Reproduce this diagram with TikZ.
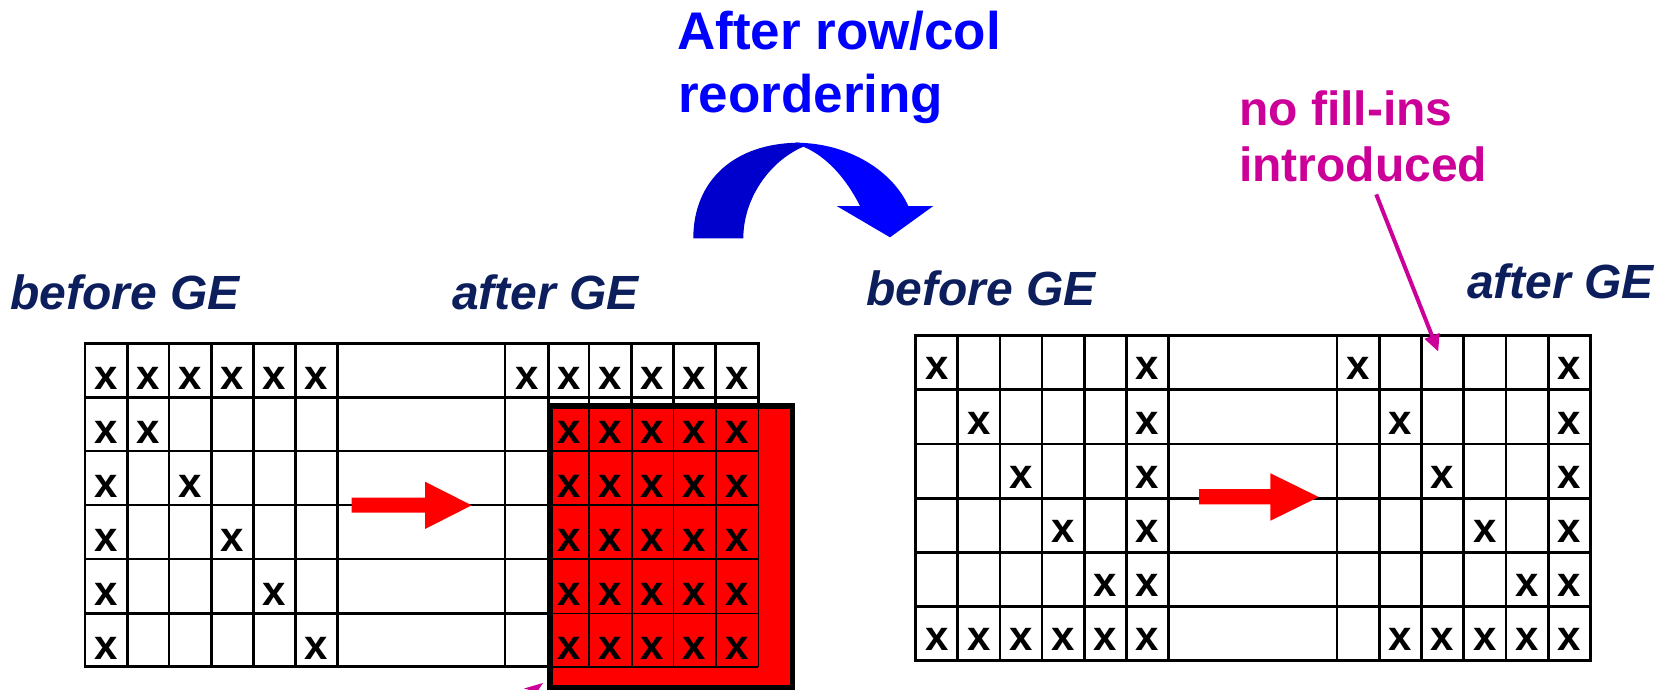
\documentclass[tikz,border=0pt]{standalone}
\usepackage{fontspec}
\setmainfont{Liberation Sans}
\usetikzlibrary{arrows.meta}
\definecolor{navy}{HTML}{0C1F5C}
\definecolor{mag}{HTML}{CC0099}
\definecolor{bluedark}{HTML}{0000CC}
\definecolor{bluebright}{HTML}{0000FF}
\begin{document}
\begin{tikzpicture}[x=1pt,y=-1pt,
  gridline/.style={line width=2.8pt,line cap=rect},
  inred/.style={line width=1.6pt},
  xm/.style={font=\fontsize{42}{42}\selectfont\bfseries,inner sep=0pt,anchor=base},
  gelab/.style={font=\fontsize{48}{48}\selectfont\bfseries\itshape,text=navy,inner sep=0pt,anchor=base west},
  title/.style={font=\fontsize{53}{53}\selectfont\bfseries,text=bluebright,inner sep=0pt,anchor=base west},
  note/.style={font=\fontsize{48}{48}\selectfont\bfseries,text=mag,inner sep=0pt,anchor=base west},
  blockarrow/.style={fill=red},
  magarrow/.style={draw=mag,line width=4pt,-{Triangle[length=17pt,width=15pt]}}
]
\useasboundingbox (0,0) rectangle (1669,690);
\clip (0,0) rectangle (1669,690);
\fill[white] (0,0) rectangle (1669,690);

% ---------- left grid ----------
\foreach \gy in {343.3,397.3,451,505,559,613.3,666.7} \draw[gridline] (85,\gy) -- (758.3,\gy);
\foreach \gx in {85,127.3,169,211.7,253.3,295.7,337.3,505,548.3,589,631.7,673.3,715.7,758.3} \draw[gridline] (\gx,343.3) -- (\gx,666.7);

% red block
\fill[red] (547,403) rectangle (795,690);
\foreach \gx in {589,631.7,673.3,715.7,758.3} \draw[inred] (\gx,408) -- (\gx,666.7);
\foreach \gy in {451,505,559,613.3,666.7} \draw[inred] (552,\gy) -- (758.3,\gy);

% left x marks
\foreach \cx [count=\c] in {106.2,148.2,190.4,232.5,274.5,316.5,526.7,568.7,610.4,652.5,694.5,737}
  \node[xm] (La\c) at (\cx,389.8) {x};
\foreach \by [count=\r from 2] in {443.5,497.5,551.5,605.8,659.2}
  \node[xm] (Lb\r) at (106.2,\by) {x};
\foreach \cx/\by [count=\r from 2] in {148.2/443.5,190.4/497.5,232.5/551.5,274.5/605.8,316.5/659.2}
  \node[xm] (Lc\r) at (\cx,\by) {x};
\foreach \cx [count=\c] in {568.7,610.4,652.5,694.5,737}
  \foreach \by [count=\r] in {443.5,497.5,551.5,605.8,659.2}
    \node[xm] (Ld\r\c) at (\cx,\by) {x};

\draw[line width=5.5pt] (549.75,405.75) rectangle (792.25,687.25);

% ---------- right grid ----------
\foreach \gy in {335.7,389.8,444,498.2,552.3,606.5,660.7} \draw[gridline] (915.8,\gy) -- (1590.6,\gy);
\foreach \gx in {915.8,957.6,1000,1041.9,1084.2,1126.6,1168.5,1337,1379.3,1421.2,1463.5,1505.9,1548.3,1590.6} \draw[gridline] (\gx,335.7) -- (\gx,660.7);

\foreach \cx/\by [count=\r] in {936.7/379.8,978.8/434,1021/488.2,1063/542.3,1105.4/596.5}
  \node[xm] (Ra\r) at (\cx,\by) {x};
\foreach \by [count=\r] in {379.8,434,488.2,542.3,596.5}
  \node[xm] (Rb\r) at (1147.5,\by) {x};
\foreach \cx/\by [count=\r] in {1358.2/379.8,1400.3/434,1442.4/488.2,1484.7/542.3,1527.1/596.5}
  \node[xm] (Rc\r) at (\cx,\by) {x};
\foreach \by [count=\r] in {379.8,434,488.2,542.3,596.5}
  \node[xm] (Rd\r) at (1569.5,\by) {x};
\foreach \cx [count=\c] in {936.7,978.8,1021,1063,1105.4,1147.5,1400.3,1442.4,1484.7,1527.1,1569.5}
  \node[xm] (Re\c) at (\cx,650.7) {x};

% ---------- red block arrows ----------
\fill[blockarrow] (351.7,497.7) -- (425,497.7) -- (425,481.7) -- (471.7,505.3) -- (425,529) -- (425,512.7) -- (351.7,512.7) -- cycle;
\fill[blockarrow] (1199,489) -- (1270.4,489) -- (1270.4,473.3) -- (1318.7,497) -- (1270.4,520.7) -- (1270.4,504.3) -- (1199,504.3) -- cycle;

% ---------- blue curved arrow ----------
\fill[bluedark] (693.3,238.3) .. controls (693.3,180) and (735,142.7) .. (800,142.7) -- (803.3,146.7) .. controls (768,162) and (743.3,200) .. (743.3,238.3) -- cycle;
\fill[bluebright] (795,142.7) .. controls (850,142.7) and (893,172) .. (908.3,206) -- (860,206) .. controls (846,178) and (826,156) .. (803.3,146.7) -- cycle;
\fill[bluebright] (836.7,206) -- (933.3,206) -- (890,237.3) -- cycle;

% ---------- texts ----------
\node[title] (t1) at (677,50) {After row/col};
\node[title] (t2) at (678,113) {reordering};
\node[gelab] (bl) at (10,309) {before GE};
\node[gelab] (al) at (452,309) {after GE};
\node[gelab] (br) at (866,305) {before GE};
\node[gelab] (ar) at (1467,298.3) {after GE};
\node[note] (n1) at (1239,125) {no fill-ins};
\node[note] (n2) at (1239,181.7) {introduced};

\coordinate (fillin) at (1438.3,351.7);
\draw[magarrow] ([xshift=13pt,yshift=-12pt]n2.south) -- (fillin);

% magenta arrow tip cut by the lower border
\fill[mag] (524,688.5) -- (543,683) -- (537,692) -- cycle;
\end{tikzpicture}
\end{document}
